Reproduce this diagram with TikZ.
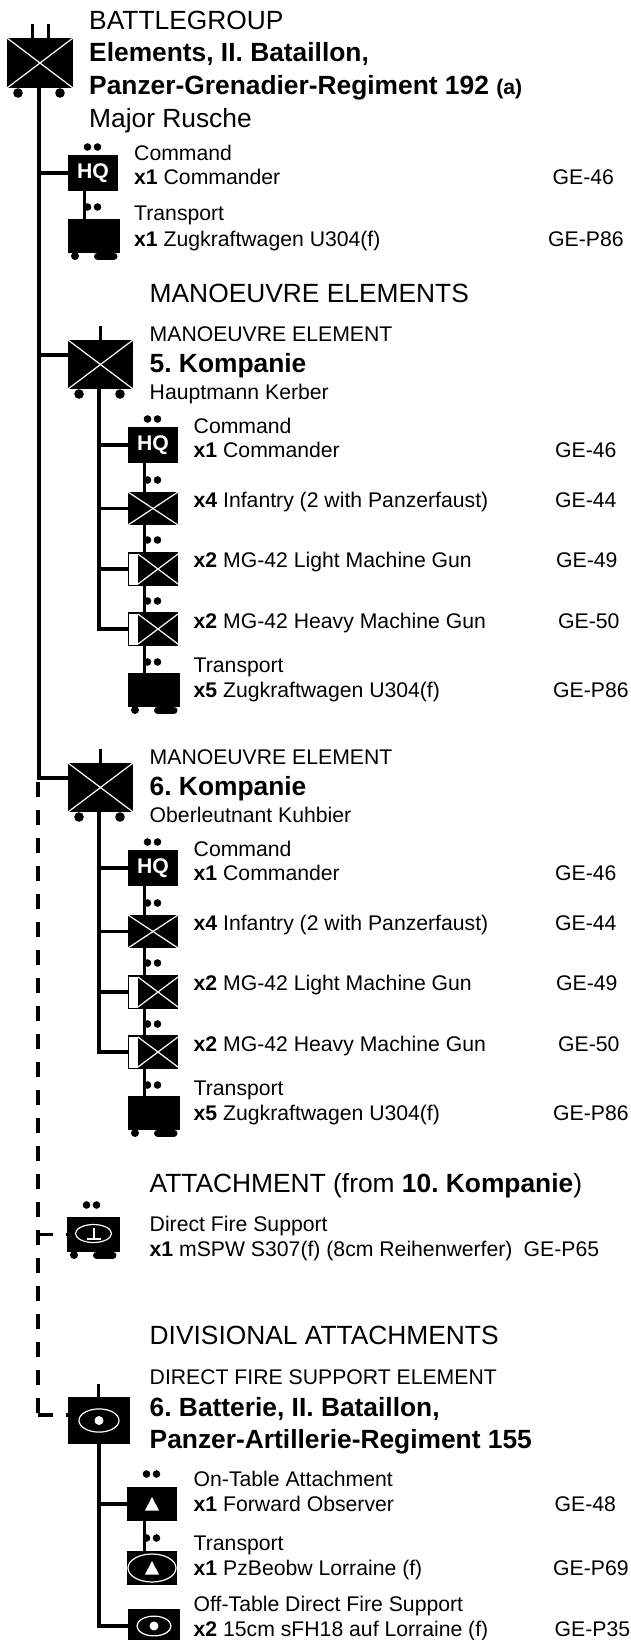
\documentclass[tikz,border=0pt]{standalone}
\usepackage{fontspec}
\setmainfont{Liberation Sans}
\frenchspacing
\usetikzlibrary{positioning,calc}
\tikzset{
  big/.style={anchor=base west,inner sep=0pt,font=\fontsize{26.35}{30}\selectfont},
  small/.style={anchor=base west,inner sep=0pt,font=\fontsize{21.2}{25}\selectfont},
  unit/.style={anchor=north west,fill=black,inner sep=0pt,outer sep=0pt},
  link/.style={line width=3.7pt,color=black},
  sublink/.style={line width=3pt,color=black},
  attach/.style={line width=3.7pt,color=black,dash pattern=on 15pt off 13pt},
  tickmark/.style={line width=3pt,color=black},
  crossed/.style={path picture={
    \draw[white,line width=1.2pt] (path picture bounding box.north west)--(path picture bounding box.south east);
    \draw[white,line width=1.2pt] (path picture bounding box.south west)--(path picture bounding box.north east);}},
  mgunit/.style={path picture={
    \fill[white,shift={(path picture bounding box.center)}] (-24,-15.5)--(-15,-15.5)--(-15,15.5)--(-24,15.5)--cycle;
    \draw[white,line width=1.2pt,shift={(path picture bounding box.center)}] (-15,15)--(25,-15) (-15,-15)--(25,15);}},
  eye/.style={path picture={
    \draw[white,line width=1.2pt] (path picture bounding box.center) ellipse [x radius=#1pt,y radius=0.58*#1pt];
    \fill[white] (path picture bounding box.center) circle[radius=4.5pt];}},
  obs/.style={path picture={
    \fill[white,shift={(path picture bounding box.center)}] (-7,6.5)--(7,6.5)--(0,-7)--cycle;}},
  obsring/.style={path picture={
    \draw[white,line width=1.2pt] (path picture bounding box.center) ellipse [x radius=24pt,y radius=14pt];
    \fill[white,shift={(path picture bounding box.center)}] (-7,6.5)--(7,6.5)--(0,-7)--cycle;}},
  mortar/.style={path picture={
    \draw[white,line width=1.2pt,shift={(path picture bounding box.center)}] (0,-1) ellipse [x radius=18pt,y radius=9pt];
    \draw[white,line width=2pt,shift={(path picture bounding box.center)}] (0,-7)--(0,4) (-7,4)--(7,4);}},
}
\newcommand{\rankdots}[2]{%
  \fill ([shift={(19.5,-#2)}]#1.north west) circle[radius=3.8pt];
  \fill ([shift={(29.5,-#2)}]#1.north west) circle[radius=3.8pt];}
\newcommand{\tracks}[1]{%
  \fill ([shift={(7,3)}]#1.south west) circle[radius=4pt];
  \draw[line width=7pt,line cap=round] ([shift={(29.5,3)}]#1.south west)--([shift={(46,3)}]#1.south west);}
\newcommand{\topwheels}[1]{%
  \fill ([shift={(11,5)}]#1.south west) circle[radius=4.8pt];
  \fill ([shift={(-13,5)}]#1.south east) circle[radius=4.8pt];}
\begin{document}
\begin{tikzpicture}[x=1pt,y=-1pt]
  \useasboundingbox (0,0) rectangle (631,1640);
  \fill[white] (0,0) rectangle (631,1640);

  % battlegroup
  \node[unit,crossed,minimum width=66,minimum height=50] (bg) at (7,38) {};
  \coordinate (bgtrunk) at (39,88);
  \draw[tickmark] ([xshift=-8pt]bg.north)--+(0,-14);
  \draw[tickmark] ([xshift=8pt]bg.north)--+(0,-14);
  \topwheels{bg}
  \node[big] (bgtype) at (89,30) {BATTLEGROUP};
  \node[big] (bgname) at (89,62) {\bfseries Elements, II. Bataillon,};
  \node[big] (bgreg) at (89,95) {\bfseries Panzer-Grenadier-Regiment 192 {\fontsize{21.2}{25}\selectfont(a)}};
  \node[big] (bgboss) at (89,128) {Major Rusche};

  \node[unit,minimum width=50,minimum height=36,text=white,font=\fontsize{21.2}{25}\selectfont\bfseries] (hq) at (68,155) {HQ};
  \node[unit,minimum width=52,minimum height=34] (tr) at (68,219) {};
  \rankdots{hq}{8}
  \rankdots{tr}{12}
  \tracks{tr}
  \draw[link] (hq.west -| bgtrunk)--(hq.west);
  \draw[sublink] ([xshift=-9pt]hq.south)--([xshift=-10pt]tr.north);
  \node[small] (hqa) at (134,161) {Command};
  \node[small] (hqb) at (134,185) {\textbf{x1} Commander};
  \node[small] (hqc) at (552.5,185) {GE-46};
  \node[small] (tra) at (134,220) {Transport};
  \node[small] (trb) at (134,246) {\textbf{x1} Zugkraftwagen U304(f)};
  \node[small] (trc) at (548,246) {GE-P86};

  \node[big] (mhead) at (149.5,302) {MANOEUVRE ELEMENTS};

  % the two companies
  \foreach \co/\off/\coname/\boss in {1/0/5/Hauptmann Kerber,2/423/6/Oberleutnant Kuhbier}{
    \begin{scope}[shift={(0,\off)}]
      \node[unit,crossed,minimum width=65,minimum height=49] (co\co) at (68,340) {};
      \draw[tickmark] (co\co.north)--+(0,-14);
      \topwheels{co\co}
      \node[small] (cotype\co) at (149.5,341) {MANOEUVRE ELEMENT};
      \node[big] (coname\co) at (149.5,372) {\bfseries \coname. Kompanie};
      \node[small] (coboss\co) at (149.5,399) {\boss};

      \node[unit,minimum width=50,minimum height=36,text=white,font=\fontsize{21.2}{25}\selectfont\bfseries] (hq\co) at (128,427) {HQ};
      \node[unit,crossed,minimum width=50,minimum height=33] (inf\co) at (128,492) {};
      \node[unit,mgunit,minimum width=50,minimum height=34] (lmg\co) at (128,552) {};
      \node[unit,mgunit,minimum width=50,minimum height=34] (hmg\co) at (128,612) {};
      \node[unit,minimum width=52,minimum height=34] (tr\co) at (128,673) {};
      \rankdots{hq\co}{8}
      \rankdots{inf\co}{12}
      \rankdots{lmg\co}{12}
      \rankdots{hmg\co}{11}
      \rankdots{tr\co}{11}
      \tracks{tr\co}

      \draw[sublink] ([xshift=-9pt]hq\co.south)--([xshift=-9pt]inf\co.north);
      \draw[sublink] ([xshift=-9pt]inf\co.south)--([xshift=-9pt]lmg\co.north);
      \draw[sublink] ([xshift=-9pt]lmg\co.south)--([xshift=-9pt]hmg\co.north);
      \draw[sublink] ([xshift=-9pt]hmg\co.south)--([xshift=-10pt]tr\co.north);
      \draw[link] ([xshift=-1.5pt]co\co.south) |- (hmg\co.west);
      \draw[link] (hq\co.west -| hmg\co.west) ++(-29,0)--(hq\co.west);
      \draw[link] (inf\co.west) ++(-29,0)--(inf\co.west);
      \draw[link] (lmg\co.west) ++(-29,0)--(lmg\co.west);

      \node[small] (hqa\co) at (193.5,433) {Command};
      \node[small] (hqb\co) at (193.5,457.5) {\textbf{x1} Commander};
      \node[small] (hqc\co) at (555,457.5) {GE-46};
      \node[small] (infb\co) at (193.5,507) {\textbf{x4} Infantry (2 with Panzerfaust)};
      \node[small] (infc\co) at (555,507) {GE-44};
      \node[small] (lmgb\co) at (193.5,567) {\textbf{x2} MG-42 Light Machine Gun};
      \node[small] (lmgc\co) at (556,567) {GE-49};
      \node[small] (hmgb\co) at (193.5,628) {\textbf{x2} MG-42 Heavy Machine Gun};
      \node[small] (hmgc\co) at (558,628) {GE-50};
      \node[small] (tra\co) at (193.5,672) {Transport};
      \node[small] (trb\co) at (193.5,697) {\textbf{x5} Zugkraftwagen U304(f)};
      \node[small] (trc\co) at (553,697) {GE-P86};
    \end{scope}
  }

  \draw[link] (bgtrunk) |- ([yshift=9.5pt]co2.west);
  \draw[link] ([yshift=9.5pt]co1.west -| bgtrunk)--([yshift=9.5pt]co1.west);

  % attachment
  \node[big] (athead) at (149.5,1192) {ATTACHMENT (from \textbf{10. Kompanie})};
  \node[unit,mortar,minimum width=53,minimum height=35] (atx) at (67,1217) {};
  \rankdots{atx}{12}
  \tracks{atx}
  \node[small] (atxa) at (149.5,1231) {Direct Fire Support};
  \node[small] (atxb) at (149.5,1256) {\textbf{x1} mSPW S307(f) (8cm Reihenwerfer)};
  \node[small] (atxc) at (523.5,1256) {GE-P65};

  % divisional attachments
  \node[big] (dvhead) at (149.5,1344) {DIVISIONAL ATTACHMENTS};
  \node[small] (battype) at (149.5,1384) {DIRECT FIRE SUPPORT ELEMENT};
  \node[big] (batname) at (149.5,1416) {\bfseries 6. Batterie, II. Bataillon,};
  \node[big] (batreg) at (149.5,1448) {\bfseries Panzer-Artillerie-Regiment 155};
  \node[unit,eye=20,minimum width=62,minimum height=47] (bat) at (68,1397) {};
  \draw[tickmark] ([xshift=-0.5pt]bat.north)--+(0,-13);
  \node[unit,obs,minimum width=50,minimum height=34] (fo) at (127,1487) {};
  \node[unit,obsring,minimum width=50,minimum height=34] (fov) at (127,1551) {};
  \node[unit,eye=17,minimum width=52,minimum height=34] (off) at (128,1609) {};
  \rankdots{fo}{13}
  \rankdots{fov}{13}
  \draw[sublink] ([xshift=-8pt]fo.south)--([xshift=-8pt]fov.north);
  \draw[link] (bat.south) |- (off.west);
  \draw[link] (fo.west) ++(-28,0)--(fo.west);
  \node[small] (foa) at (193.5,1486) {On-Table Attachment};
  \node[small] (fob) at (193.5,1511) {\textbf{x1} Forward Observer};
  \node[small] (foc) at (554.5,1511) {GE-48};
  \node[small] (fova) at (193.5,1550) {Transport};
  \node[small] (fovb) at (193.5,1575) {\textbf{x1} PzBeobw Lorraine (f)};
  \node[small] (fovc) at (553,1575) {GE-P69};
  \node[small] (offa) at (193.5,1611) {Off-Table Direct Fire Support};
  \node[small] (offb) at (193.5,1636) {\textbf{x2} 15cm sFH18 auf Lorraine (f)};
  \node[small] (offc) at (554.5,1636) {GE-P35};

  % dashed attachment lines
  \coordinate (dashtop) at (38,782);
  \coordinate (dashend) at (38,1415);
  \draw[attach] (dashtop)--(dashend);
  \draw[attach] (atx.west -| dashtop)--(atx.west);
  \draw[attach] (dashend)--(dashend -| bat.west);
\end{tikzpicture}
\end{document}
